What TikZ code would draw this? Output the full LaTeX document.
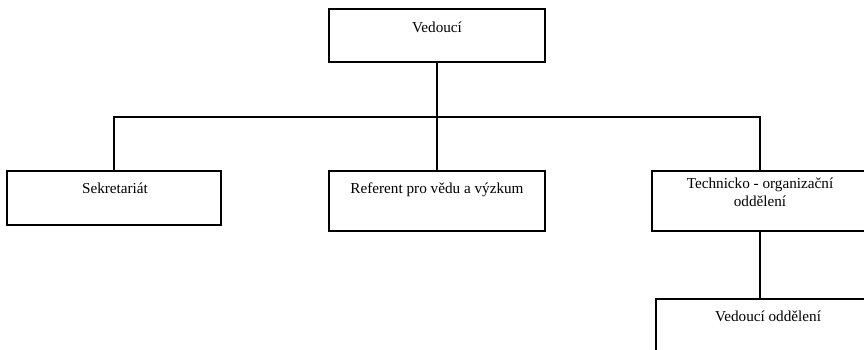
\documentclass[tikz,border=0pt]{standalone}
\usepackage{fontspec}
\setmainfont{Liberation Serif}
\begin{document}
\begin{tikzpicture}[x=1pt,y=-1pt,
  box/.style={draw, line width=1.6pt, inner sep=0pt, minimum width=#1},
  conn/.style={line width=1.6pt},
  lbl/.style={anchor=base, font=\fontsize{15.2}{18}\selectfont, align=center, inner sep=0pt}]
\useasboundingbox (0,0) rectangle (864,349);
\clip (0,0) rectangle (864,349);
% boxes
\node[box=216pt, minimum height=53pt] (top) at (437,35.5) {};
\node[box=214pt, minimum height=54pt] (sek) at (114,198) {};
\node[box=216pt, minimum height=60pt] (mid) at (437,201) {};
\node[box=216pt, minimum height=60pt] (tech) at (760,201) {};
\node[box=224pt, minimum height=60pt] (ved) at (768,329) {};
% labels
\node[lbl] (ttop) at (437,32) {Vedoucí};
\node[lbl] (tsek) at (115,193) {Sekretariát};
\node[lbl] (tmid) at (437,193) {Referent pro vědu a výzkum};
\node[lbl] (ttech) at (760,206) {Technicko - organizační\\oddělení};
\node[lbl] (tved) at (768,321) {Vedoucí oddělení};
% connectors
\coordinate (bus) at (437,117);
\draw[conn] (top.south) -- (bus);
\draw[conn] (sek.north) |- (bus) -| (tech.north);
\draw[conn] (bus) -- (mid.north);
\draw[conn] (tech.south) -- (tech.south |- ved.north);
\end{tikzpicture}
\end{document}
